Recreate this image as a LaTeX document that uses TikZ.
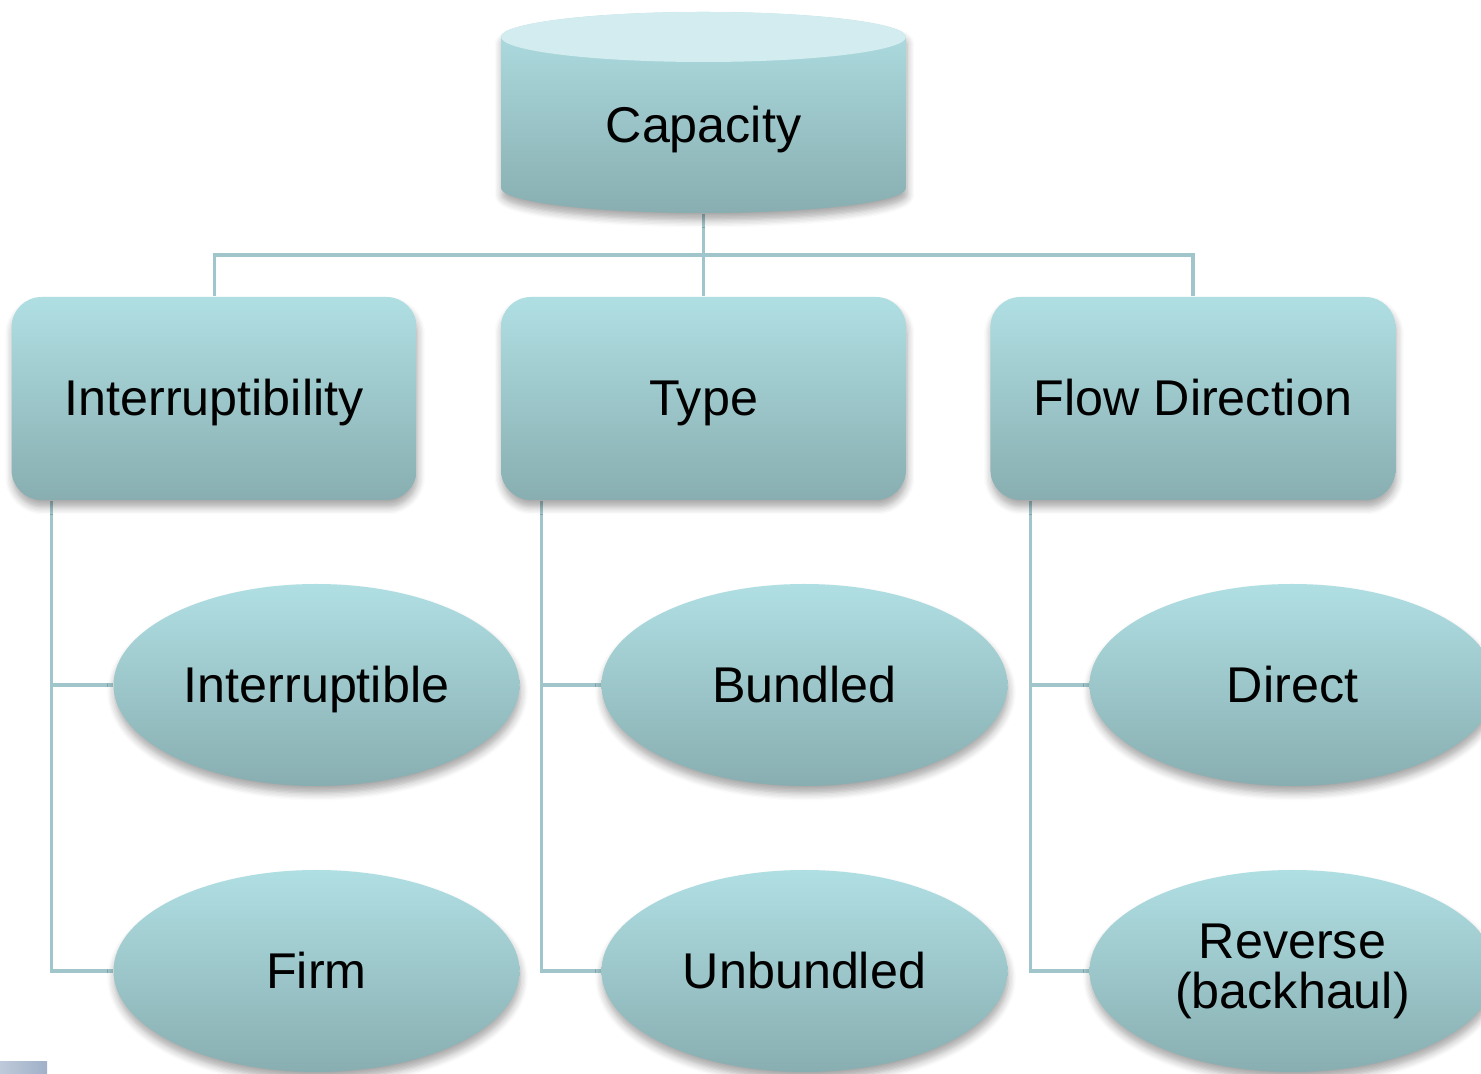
\documentclass[tikz,border=0pt]{standalone}
\usepackage{fontspec}
\setmainfont{Liberation Sans}
\usepackage{tikz}
\usetikzlibrary{shapes.geometric, positioning, backgrounds, shadows.blur, calc}

\definecolor{tealtop}{RGB}{176,223,227}
\definecolor{tealbot}{RGB}{136,174,177}
\definecolor{capend}{RGB}{210,236,239}
\definecolor{linkcol}{RGB}{160,198,203}

\tikzstyle{label} = [font=\fontsize{14.3pt}{14.2pt}\selectfont, text height=0.45cm, text depth=0.1cm]
\tikzstyle{softshadow} = [blur shadow={shadow xshift=0.01cm, shadow yshift=-0.07cm, shadow blur steps=6, shadow opacity=35}]
\tikzstyle{box} = [rectangle, rounded corners=0.3cm, minimum width=4.05cm, minimum height=2.03cm, text centered, top color=tealtop, bottom color=tealbot, softshadow, label]
\tikzstyle{leaf} = [ellipse, inner sep=0pt, minimum width=4.06cm, minimum height=2.02cm, align=center, top color=tealtop, bottom color=tealbot, softshadow, font=\fontsize{14.3pt}{14.2pt}\selectfont]
\tikzstyle{link} = [draw=linkcol, line width=0.9pt]

\begin{document}
\begin{tikzpicture}
    \useasboundingbox (0, 0) rectangle (14.81, 10.74);
    \clip (0, 0) rectangle (14.81, 10.74);

    % top cylinder
    \shade [top color=tealtop, bottom color=tealbot, softshadow] (5.01, 10.37) -- (5.01, 8.86)
        arc [start angle=180, end angle=360, x radius=2.025cm, y radius=0.25cm] -- (9.06, 10.37)
        arc [start angle=0, end angle=180, x radius=2.025cm, y radius=0.25cm] -- cycle;
    \fill [capend] (7.035, 10.37) ellipse [x radius=2.025cm, y radius=0.25cm];
    \node (capacity) [label, minimum height=1.76cm] at (7.035, 9.49) {Capacity};

    % second level
    \node (type) [box] at (7.035, 6.755) {Type};
    \node (interrupt) [box, left=0.83cm of type] {Interruptibility};
    \node (flow) [box, right=0.83cm of type] {Flow Direction};

    % leaves
    \node (interruptible) [leaf, label] at (3.165, 3.89) {Interruptible};
    \node (firm) [leaf, label] at (3.165, 1.03) {Firm};
    \node (bundled) [leaf, label] at (8.045, 3.89) {Bundled};
    \node (unbundled) [leaf, label] at (8.045, 1.03) {Unbundled};
    \node (direct) [leaf, label] at (12.925, 3.89) {Direct};
    \node (reverse) [leaf] at (12.925, 1.03) {Reverse\\(backhaul)};

    \fill [left color={rgb,255:red,190;green,202;blue,218}, right color={rgb,255:red,160;green,176;blue,200}] (0, 0) rectangle (0.47, 0.12);

    \begin{scope}[on background layer]
        \coordinate (bus) at (7.035, 8.19);
        \draw [link] (capacity.south) -- (type.north);
        \draw [link] (bus) -| (interrupt.north);
        \draw [link] (bus) -| (flow.north);

        \draw [link] ([xshift=0.41cm]interrupt.south west) |- (interruptible.west);
        \draw [link] ([xshift=0.41cm]interrupt.south west) |- (firm.west);
        \draw [link] ([xshift=0.41cm]type.south west) |- (bundled.west);
        \draw [link] ([xshift=0.41cm]type.south west) |- (unbundled.west);
        \draw [link] ([xshift=0.41cm]flow.south west) |- (direct.west);
        \draw [link] ([xshift=0.41cm]flow.south west) |- (reverse.west);
    \end{scope}

\end{tikzpicture}
\end{document}
